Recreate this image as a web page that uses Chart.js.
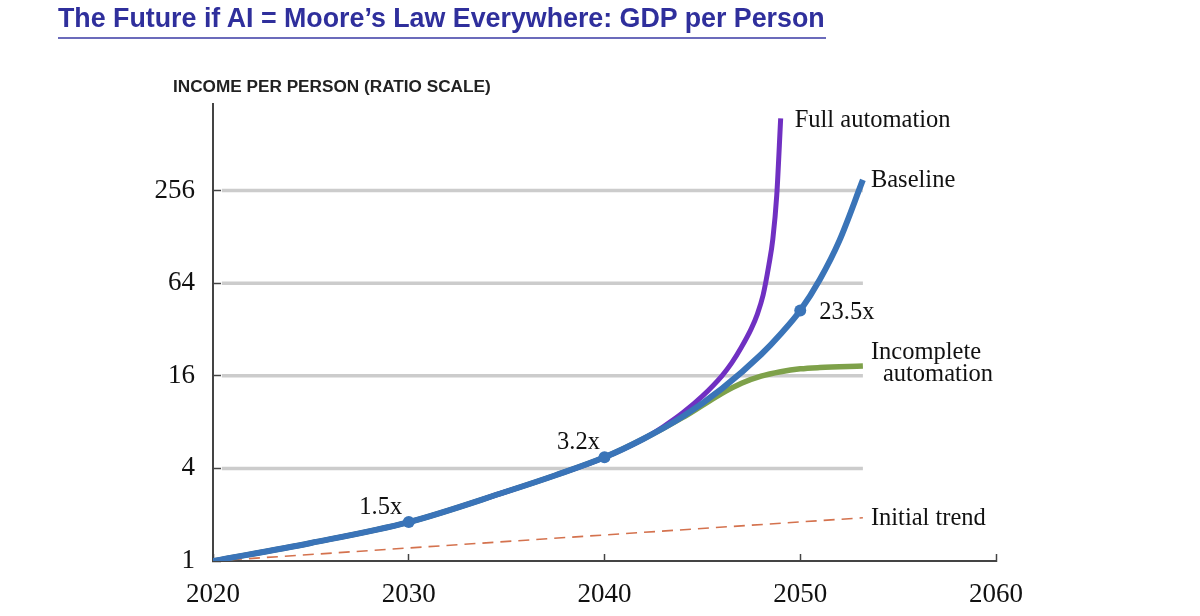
<!DOCTYPE html>
<html>
<head>
<meta charset="utf-8">
<script src="https://cdn.jsdelivr.net/npm/chart.js@4.4.1/dist/chart.umd.min.js"></script>
<style>
  html, body { margin: 0; padding: 0; background: #ffffff; }
  #wrap { position: relative; width: 1200px; height: 616px; overflow: hidden; }
  #title {
    position: absolute; left: 58px; top: 3px; width: 768px;
    font-family: "Liberation Sans", Arial, sans-serif; font-weight: bold;
    font-size: 26.8px; color: #2f2f9c; white-space: nowrap;
    padding-bottom: 3.5px; border-bottom: 2px solid #6b6bbb; line-height: 30px;
  }
  #ycap {
    position: absolute; left: 173px; top: 76px;
    font-family: "Liberation Sans", Arial, sans-serif; font-weight: bold;
    font-size: 17.2px; color: #222; white-space: nowrap;
  }
  #chartBox { position: absolute; left: 0; top: 0; width: 1200px; height: 616px; }
</style>
</head>
<body>
<div id="wrap">
  <div id="chartBox"><canvas id="c" width="1200" height="616"></canvas></div>
  <div id="title">The Future if AI = Moore’s Law Everywhere: GDP per Person</div>
  <div id="ycap">INCOME PER PERSON (RATIO SCALE)</div>
</div>
<script>
// ---- Data ----
const xTicks = [2020, 2030, 2040, 2050, 2060];
const yTicks = [1, 4, 16, 64, 256];
const gridValues = [4, 16, 64, 256];
const gridEndYear = 2053.2;

const baselineYears  = [2020, 2025, 2030, 2035, 2037.5, 2040, 2042, 2044, 2046, 2048, 2049, 2050, 2051, 2052, 2053.2];
const baselineValues = [1, 1.31, 1.79, 2.83, 3.61, 4.72, 6.23, 8.69, 13.2, 22.0, 29.9, 42.5, 67.6, 121, 300];

const fullYears  = [2020, 2025, 2030, 2035, 2037.5, 2040, 2042, 2043, 2044, 2045, 2046, 2046.5, 2047, 2047.5, 2047.8, 2048.1, 2048.4, 2048.6, 2048.8, 2049.0];
const fullValues = [1, 1.31, 1.79, 2.83, 3.61, 4.72, 6.23, 7.46, 9.19, 11.8, 16.0, 19.4, 24.6, 32.4, 40.0, 53.4, 84.4, 124, 239, 755];

const incompleteYears  = [2020, 2025, 2030, 2035, 2037.5, 2040, 2042, 2044, 2045, 2046, 2047, 2048, 2049, 2050, 2051, 2053.2];
const incompleteValues = [1, 1.31, 1.79, 2.83, 3.61, 4.72, 6.23, 8.57, 10.27, 12.3, 14.3, 15.9, 17.0, 17.75, 18.1, 18.5];

const trendYears  = [2020, 2053.2];
const trendValues = [1, 1.91];

const milestoneYears  = [2030, 2040, 2050];
const milestoneValues = [1.79, 4.72, 42.5];
const milestoneLabels = ['1.5x', '3.2x', '23.5x'];

const seriesNames = ['Full automation', 'Baseline', ['Incomplete', 'automation'], 'Initial trend'];

// ---- Build datasets ----
const pts = (xs, ys) => xs.map((x, i) => ({ x: x, y: ys[i] }));

const COLORS = {
  baseline: '#3a74b8',
  full: '#7030c2',
  incomplete: '#7ea14a',
  trend: '#d4724e',
  grid: '#cccccc',
  axis: '#444444'
};

const datasets = [
  { label: 'milestones', data: pts(milestoneYears, milestoneValues), showLine: false,
    pointRadius: 6, pointBackgroundColor: COLORS.baseline, pointBorderWidth: 0, order: 0 },
  { label: 'Baseline', data: pts(baselineYears, baselineValues), borderColor: COLORS.baseline,
    borderWidth: 6, pointRadius: 0, cubicInterpolationMode: 'monotone', order: 1, borderCapStyle: 'butt' },
  { label: 'Full automation', data: pts(fullYears, fullValues), borderColor: COLORS.full,
    borderWidth: 5, pointRadius: 0, cubicInterpolationMode: 'monotone', order: 2 },
  { label: 'Incomplete automation', data: pts(incompleteYears, incompleteValues), borderColor: COLORS.incomplete,
    borderWidth: 5.5, pointRadius: 0, cubicInterpolationMode: 'monotone', order: 3 },
  { label: 'Initial trend', data: pts(trendYears, trendValues), borderColor: COLORS.trend,
    borderWidth: 1.6, borderDash: [11, 7], pointRadius: 0, order: 4 }
];
gridValues.forEach(v => {
  datasets.push({ label: 'grid', data: [{ x: 2020.45, y: v }, { x: gridEndYear, y: v }],
    borderColor: COLORS.grid, borderWidth: 3.5, pointRadius: 0, order: 10 });
});

// ---- Text label plugin (anchored to data through the scales) ----
const labelStyle = {
  font: '24.5px "Liberation Serif", "Times New Roman", serif',
  color: '#111'
};
const labelsPlugin = {
  id: 'textLabels',
  afterDatasetsDraw(chart) {
    const { ctx, scales: { x, y } } = chart;
    ctx.save();
    ctx.font = labelStyle.font;
    ctx.fillStyle = labelStyle.color;
    ctx.textBaseline = 'middle';
    const mOff = [[-28, -15, 'center'], [-26, -15, 'center'], [19, 2, 'left']];
    milestoneLabels.forEach((t, i) => {
      const px = x.getPixelForValue(milestoneYears[i]);
      const py = y.getPixelForValue(milestoneValues[i]);
      ctx.textAlign = mOff[i][2];
      ctx.fillText(t, px + mOff[i][0], py + mOff[i][1]);
    });
    const ends = [
      [fullYears, fullValues, 14, 2],
      [baselineYears, baselineValues, 8, 1],
      [incompleteYears, incompleteValues, 8, -14],
      [trendYears, trendValues, 8, 1]
    ];
    ctx.textAlign = 'left';
    ends.forEach((e, i) => {
      const xs = e[0], ys = e[1];
      const px = x.getPixelForValue(xs[xs.length - 1]);
      const py = y.getPixelForValue(ys[ys.length - 1]);
      const name = seriesNames[i];
      if (Array.isArray(name)) {
        ctx.fillText(name[0], px + e[2], py + e[3]);
        ctx.fillText(name[1], px + e[2] + 12, py + e[3] + 22);
      } else {
        ctx.fillText(name, px + e[2], py + e[3]);
      }
    });
    ctx.restore();
  }
};

const tickFont = { family: '"Liberation Serif", "Times New Roman", serif', size: 27 };

new Chart(document.getElementById('c'), {
  type: 'line',
  data: { datasets: datasets },
  plugins: [labelsPlugin],
  options: {
    responsive: false,
    animation: false,
    devicePixelRatio: 1,
    layout: { padding: { top: 104, right: 204, bottom: 0, left: 0 } },
    plugins: { legend: { display: false }, tooltip: { enabled: false }, title: { display: false } },
    scales: {
      x: {
        type: 'linear', min: 2020, max: 2060,
        afterBuildTicks: s => { s.ticks = xTicks.map(v => ({ value: v })); },
        afterFit: s => { s.height = 55; },
        ticks: { callback: v => String(v), font: tickFont, color: '#111', padding: 25, maxRotation: 0, autoSkip: false },
        grid: { drawOnChartArea: false, drawTicks: true, tickLength: -7, tickColor: COLORS.axis, tickWidth: 1.5 },
        border: { display: true, color: COLORS.axis, width: 2 }
      },
      y: {
        type: 'logarithmic', min: 1, max: 935,
        afterBuildTicks: s => { s.ticks = yTicks.map(v => ({ value: v })); },
        afterFit: s => { s.width = 213; },
        ticks: { callback: v => String(v), font: tickFont, color: '#111', padding: 26, autoSkip: false },
        grid: { drawOnChartArea: false, drawTicks: true, tickLength: -8, tickColor: COLORS.axis, tickWidth: 1.5 },
        border: { display: true, color: COLORS.axis, width: 2 }
      }
    }
  }
});
</script>
</body>
</html>
